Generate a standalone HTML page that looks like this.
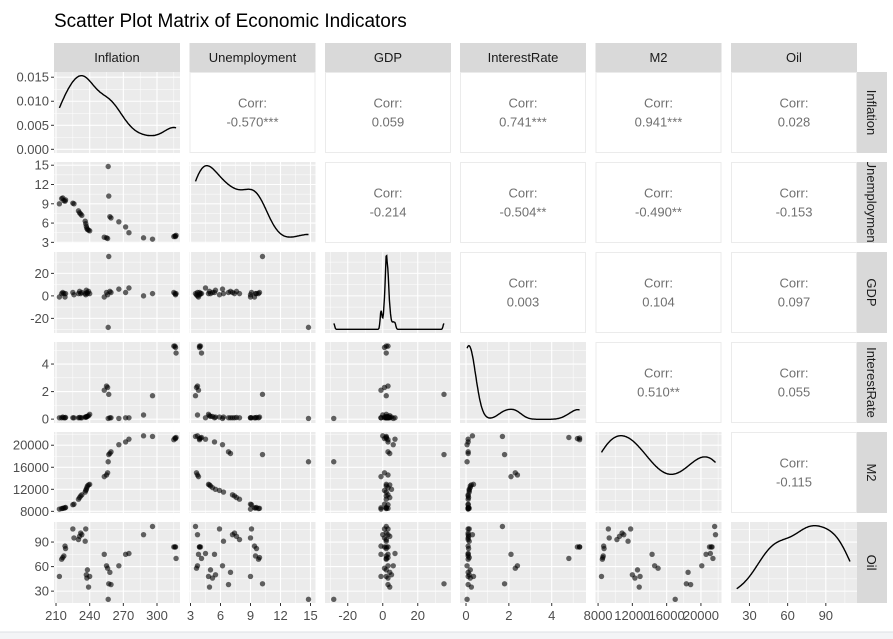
<!DOCTYPE html>
<html><head><meta charset="utf-8">
<style>
body{margin:0;background:#fff;}
svg{display:block;font-family:"Liberation Sans",Arial,sans-serif;}
</style></head>
<body>
<svg id="chart" width="893" height="639" viewBox="0 0 893 639">
<rect x="0" y="0" width="893" height="639" fill="#fff"/>
<rect x="0" y="632" width="893" height="7" fill="#f3f4f6"/>
<line x1="0" y1="632" x2="893" y2="632" stroke="#dde0e4"/>
<text x="54" y="27" font-size="19" fill="#000">Scatter Plot Matrix of Economic Indicators</text>
</svg>
<script>
const varNames = ["Inflation","Unemployment","GDP","InterestRate","M2","Oil"];
const inflation =    [213,215,216,217,218,218.5,225,226,230,231,232,233,236,236.5,237,237.5,238,239,240,253,255,256,256.5,257,258,259,266,272,275,288,296,315,316,317,316.5];
const unemployment = [9.0,9.8,9.9,9.5,9.4,9.6,9.1,9.0,7.9,7.6,7.4,7.2,6.3,5.9,5.5,5.2,5.0,4.9,4.8,3.8,3.7,3.6,14.8,10.2,7.0,6.8,6.2,5.4,4.5,3.7,3.5,3.9,4.0,4.1,3.9];
const gdp =          [-1,2,3,2,-1,2,3,1,2,4,2,3,2,1,5,3,2,4,2,-1,3,1,-28,35,4,3,6,3,7,0,2,3,2,2,1];
const interestRate = [0.1,0.1,0.15,0.1,0.1,0.12,0.1,0.1,0.1,0.12,0.1,0.1,0.15,0.15,0.15,0.2,0.2,0.25,0.35,2.1,2.4,2.3,0.05,1.8,0.1,0.1,0.05,0.1,0.1,0.3,1.7,5.3,5.3,4.8,5.2];
const m2 =           [8400,8500,8550,8600,8650,8700,9200,9300,10200,10500,10800,11000,11500,11800,12000,12300,12600,12800,12900,14300,14600,15000,17000,18300,18500,18800,20100,20600,21100,21700,21600,21000,21300,21400,21200];
const oil =          [48,69,71,73,85,82,106,95,93,97,101,99,91,106,50,46,56,35,48,75,61,58,20,39,53,38,61,75,76,99,109,84,84,70,84];
const corrText = {"0-1":"-0.570***","0-2":"0.059","0-3":"0.741***","0-4":"0.941***","0-5":"0.028",
 "1-2":"-0.214","1-3":"-0.504**","1-4":"-0.490**","1-5":"-0.153",
 "2-3":"0.003","2-4":"0.104","2-5":"0.097","3-4":"0.510**","3-5":"0.055","4-5":"-0.115"};
const xBreaks = [[210,240,270,300],[3,6,9,12,15],[-20,0,20],[0,2,4],[8000,12000,16000,20000],[30,60,90]];
const yBreaks = [[0,0.005,0.01,0.015],[3,6,9,12,15],[-20,0,20],[0,2,4],[8000,12000,16000,20000],[30,60,90]];
const xLabels = [["210","240","270","300"],["3","6","9","12","15"],["-20","0","20"],["0","2","4"],["8000","12000","16000","20000"],["30","60","90"]];
const yLabels = [["0.000","0.005","0.010","0.015"],["3","6","9","12","15"],["-20","0","20"],["0","2","4"],["8000","12000","16000","20000"],["30","60","90"]];
const domains = [[208.2,320.5],[2.9,15.5],[-33,39],[-0.28,5.6],[7700,22400],[15.5,114.5]];

const data=[inflation,unemployment,gdp,interestRate,m2,oil];
const svg=document.getElementById('chart');
const NS='http://www.w3.org/2000/svg';
const colL=[54,189.5,325,460,595.5,731], W=126, H=81;
const rowT=j=>72+90*j;
function mk(tag,attrs,parent){const e=document.createElementNS(NS,tag);for(const k in attrs)e.setAttribute(k,attrs[k]);(parent||svg).appendChild(e);return e;}
function sx(i,v){const d=domains[i];return colL[i]+(v-d[0])/(d[1]-d[0])*W;}
function sy(j,v,d){d=d||domains[j];return rowT(j)+H-(v-d[0])/(d[1]-d[0])*H;}
function sd(a){const m=a.reduce((s,v)=>s+v,0)/a.length;return Math.sqrt(a.reduce((s,v)=>s+(v-m)**2,0)/(a.length-1));}
function quant(a,p){const s=[...a].sort((x,y)=>x-y);const h=(s.length-1)*p,l=Math.floor(h);return s[l]+(h-l)*((s[Math.min(l+1,s.length-1)])-s[l]);}
function kde(a){const n=a.length;const iqr=quant(a,0.75)-quant(a,0.25);const bw=0.9*Math.min(sd(a),iqr/1.34)*Math.pow(n,-0.2);
 const lo=Math.min(...a),hi=Math.max(...a);const pts=[];for(let k=0;k<=200;k++){const x=lo+(hi-lo)*k/200;let s=0;for(const v of a){const z=(x-v)/bw;s+=Math.exp(-0.5*z*z);}pts.push([x,s/(n*bw*Math.sqrt(2*Math.PI))]);}return pts;}

// density domain for row 1
const dens=data.map(kde);
const dmax0=Math.max(...dens[0].map(p=>p[1]));
const densDom0=[-0.05*dmax0,1.05*dmax0];

for(let j=0;j<6;j++){
 for(let i=0;i<6;i++){
  const x0=colL[i], y0=rowT(j);
  if(i>j){
   const g=mk('g',{});
   
   
   mk('rect',{x:x0+0.5,y:y0+0.5,width:W-1,height:H-1,fill:'#fff',stroke:'#ebebeb'},g);
   const t1=mk('text',{x:x0+W/2,y:y0+H/2-5,'text-anchor':'middle','font-size':13,fill:'#707070'},g);t1.textContent='Corr:';
   const t2=mk('text',{x:x0+W/2,y:y0+H/2+14,'text-anchor':'middle','font-size':13,fill:'#707070'},g);t2.textContent=corrText[j+'-'+i];
   continue;
  }
  const g=mk('g',{});
  
  
  mk('rect',{x:x0,y:y0,width:W,height:H,fill:'#ebebeb'},g);
  const yd = (j===0)?densDom0:domains[j];
  // grid
  const xb=xBreaks[i], yb=yBreaks[j];
  const minor=(b)=>{const r=[];for(let k=0;k<b.length-1;k++)r.push((b[k]+b[k+1])/2);r.unshift(b[0]-(b[1]-b[0])/2);r.push(b[b.length-1]+(b[1]-b[0])/2);return r;};
  minor(xb).forEach(v=>{const X=sx(i,v);if(X>x0&&X<x0+W)mk('line',{x1:X,x2:X,y1:y0,y2:y0+H,stroke:'#fff','stroke-width':0.5},g);});
  const ybUse=(i===j&&j>0)?yb:yb;
  minor(ybUse).forEach(v=>{const Y=sy(j,v,yd);if(Y>y0&&Y<y0+H)mk('line',{x1:x0,x2:x0+W,y1:Y,y2:Y,stroke:'#fff','stroke-width':0.5},g);});
  xb.forEach(v=>{const X=sx(i,v);mk('line',{x1:X,x2:X,y1:y0,y2:y0+H,stroke:'#fff','stroke-width':1.1},g);});
  ybUse.forEach(v=>{const Y=sy(j,v,yd);mk('line',{x1:x0,x2:x0+W,y1:Y,y2:Y,stroke:'#fff','stroke-width':1.1},g);});
  if(i===j){
   const pts=dens[i];const mx=Math.max(...pts.map(p=>p[1]));
   const dd=(j===0)?densDom0:[-0.05*mx,1.05*mx];
   const d=pts.map((p,k)=>(k?'L':'M')+sx(i,p[0]).toFixed(1)+','+(y0+H-(p[1]-dd[0])/(dd[1]-dd[0])*H).toFixed(1)).join('');
   const pth=mk('path',{d:d,fill:'none',stroke:'#000','stroke-width':1.4},g);
   
   
  } else {
   for(let k=0;k<data[i].length;k++){
    const c=mk('circle',{cx:sx(i,data[i][k]),cy:sy(j,data[j][k]),r:2.7,fill:'#000','fill-opacity':0.6},g);
    
    
   }
  }
 }
 // y axis ticks/labels
 const yd=(j===0)?densDom0:domains[j];
 yBreaks[j].forEach((v,k)=>{const Y=sy(j,v,yd);
  mk('line',{x1:51,x2:54,y1:Y,y2:Y,stroke:'#333','stroke-width':1});
  const t=mk('text',{x:49,y:Y+4.5,'text-anchor':'end','font-size':13,fill:'#4d4d4d'});t.textContent=yLabels[j][k];
  
  });
 // right strip
 const sg=mk('g',{});
 
 
 const cid='clipR'+j;const cp=mk('clipPath',{id:cid},sg);mk('rect',{x:857,y:rowT(j),width:30,height:H},cp);
 mk('rect',{x:857,y:rowT(j),width:30,height:H,fill:'#d9d9d9'},sg);
 const rt=mk('text',{x:0,y:0,'text-anchor':'middle','font-size':13,fill:'#1a1a1a',transform:'translate(867,'+(rowT(j)+H/2)+') rotate(90)','clip-path':'url(#'+cid+')'},sg);
 rt.setAttribute('clip-path','');
 rt.textContent=varNames[j];
 const wrap=mk('g',{'clip-path':'url(#'+cid+')'},sg);wrap.appendChild(rt);
}
// top strips and x axis
for(let i=0;i<6;i++){
 const sg=mk('g',{});
 
 
 mk('rect',{x:colL[i],y:43,width:W,height:29,fill:'#d9d9d9'},sg);
 const t=mk('text',{x:colL[i]+W/2,y:62,'text-anchor':'middle','font-size':13,fill:'#1a1a1a'},sg);t.textContent=varNames[i];
 xBreaks[i].forEach((v,k)=>{const X=sx(i,v);
  mk('line',{x1:X,x2:X,y1:603,y2:606,stroke:'#333','stroke-width':1});
  const tl=mk('text',{x:X,y:620,'text-anchor':'middle','font-size':13,fill:'#4d4d4d'});tl.textContent=xLabels[i][k];
  
  });
}
</script>
</body></html>
